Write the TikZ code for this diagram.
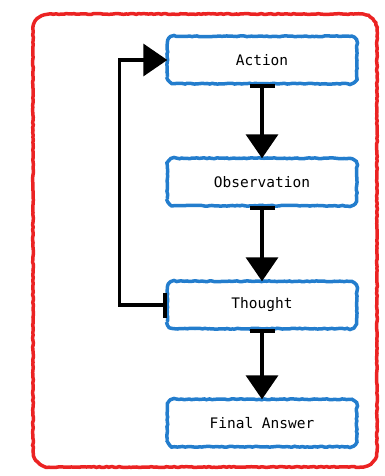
\documentclass[tikz,border=0pt]{standalone}
\usepackage{fontspec}
\setmonofont{DejaVu Sans Mono}
\usetikzlibrary{positioning,arrows.meta,decorations.pathmorphing}
\definecolor{stageblue}{RGB}{35,125,205}
\definecolor{frame red}{RGB}{235,35,35}
\begin{document}
\begin{tikzpicture}[x=1pt, y=-1pt, font=\ttfamily\fontsize{14.5}{16}\selectfont,
    sketch/.style={decoration={random steps, segment length=2.5pt, amplitude=0.45pt}},
    stage/.style={minimum width=189pt, minimum height=47pt},
    flow/.style={line width=3.5pt, {Bar[width=25pt,line width=4.5pt]}-{Triangle[length=24pt,width=32pt]}}]
    \useasboundingbox (0,0) rectangle (385,476);
    % outer frame
    \draw[frame red, line width=3.5pt, sketch] decorate {[rounded corners=16pt] (33,14) rectangle (377,467)};
    % the four stages
    \node[stage] (action) at (262,60) {Action};
    \node[stage] (obs) at (262,182) {Observation};
    \node[stage] (thought) at (262,305) {Thought};
    \node[stage] (final) at (262,423) {Final Answer};
    \foreach \n in {action,obs,thought,final}{\draw[stageblue, line width=3.5pt, sketch] decorate {[rounded corners=7pt] (\n.south west) rectangle (\n.north east)};}
    \foreach \a/\b in {action/obs,obs/thought,thought/final}{\draw[flow] (\a.south) -- (\b.north);}
    % loop back
    \draw[flow] (thought.west) -- ++(-48,0) |- (action.west);
\end{tikzpicture}
\end{document}
